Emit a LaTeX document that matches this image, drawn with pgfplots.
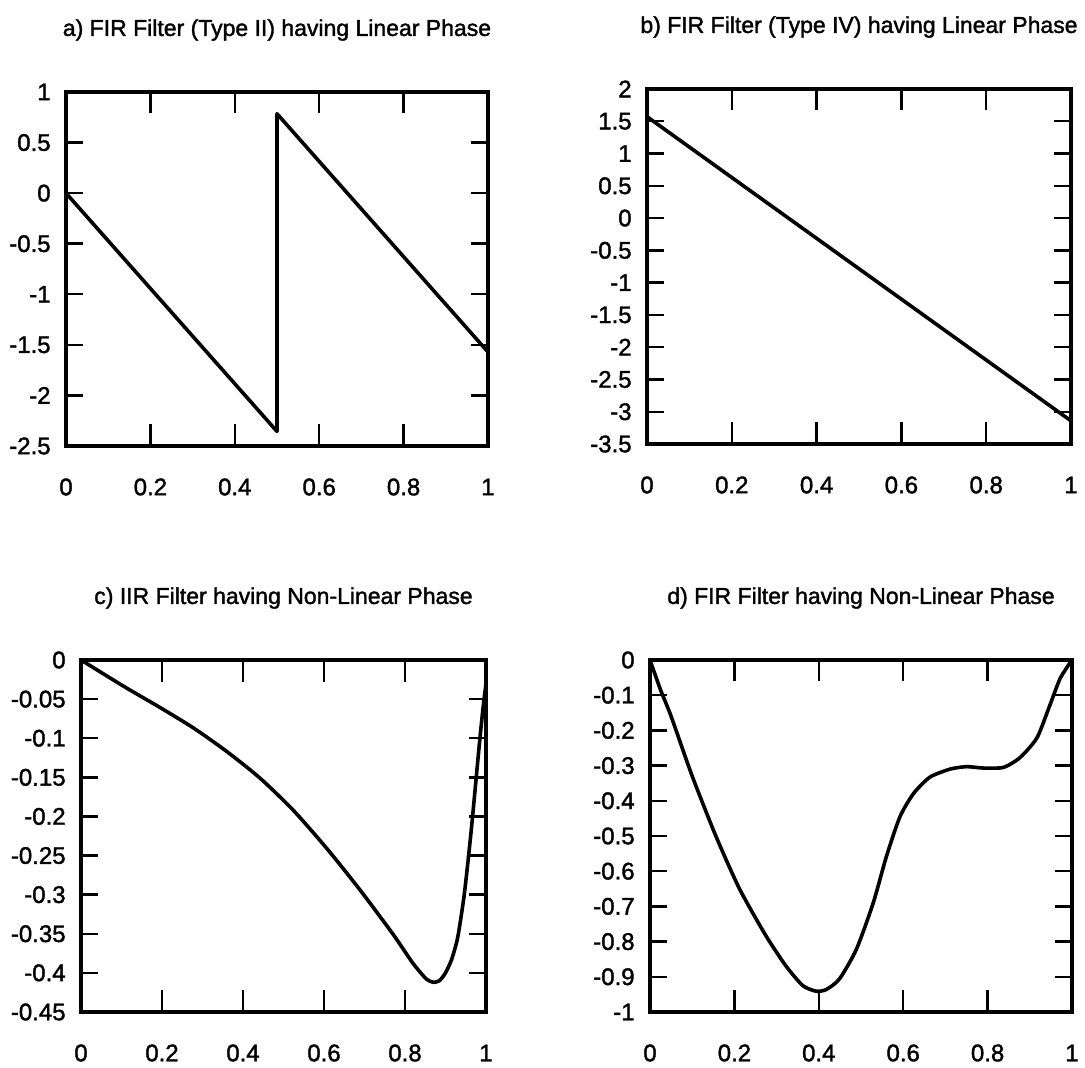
\documentclass[border=0pt]{standalone}
\usepackage{pgfplots}
\pgfplotsset{compat=1.18}
\usepackage{fontspec}
\setmainfont{Liberation Sans}[FakeBold=1.6]

\pgfplotsset{
  phaseplot/.style={
    scale only axis,
    anchor=south west,
    xmin=0, xmax=1,
    xtick={0,0.2,0.4,0.6,0.8,1},
    xticklabels={0,0.2,0.4,0.6,0.8,1},
    axis line style={line width=2pt},
    tick style={line width=1.2pt, black},
    xtick style={/pgfplots/major tick length=10.75pt},
    ytick style={/pgfplots/major tick length=8.5pt},
    tick align=inside,
    xticklabel style={font=\fontsize{12}{14}\selectfont, anchor=center, inner sep=0pt, yshift=-20.5pt},
    yticklabel style={font=\fontsize{12}{14}\selectfont, anchor=east, inner sep=0pt, xshift=-7.5pt},
    title style={font=\fontsize{11.5}{13}\selectfont, at={(0.5,1)}, anchor=center, yshift=25pt},
    clip=false,
  },
  phaseline/.style={black, no markers, line width=1.8pt, line join=round, line cap=round},
}

\begin{document}
\begin{tikzpicture}
\useasboundingbox (0,0) rectangle (542.5pt,534pt);

% a) Type II linear-phase FIR: phase wraps at half band
\begin{axis}[phaseplot, at={(33pt,311pt)}, width=211pt, height=177pt,
  ymin=-2.5, ymax=1,
  ytick={-2.5,-2,-1.5,-1,-0.5,0,0.5,1},
  yticklabels={-2.5,-2,-1.5,-1,-0.5,0,0.5,1},
  title={a) FIR Filter (Type II) having Linear Phase}]
\addplot[phaseline] coordinates {(0,0) (0.5,-2.356) (0.5,0.785) (1,-1.571)};
\end{axis}

% b) Type IV linear-phase FIR
\begin{axis}[phaseplot, at={(323.5pt,312pt)}, width=212pt, height=177.5pt,
  ymin=-3.5, ymax=2,
  ytick={-3.5,-3,-2.5,-2,-1.5,-1,-0.5,0,0.5,1,1.5,2},
  yticklabels={-3.5,-3,-2.5,-2,-1.5,-1,-0.5,0,0.5,1,1.5,2},
  title={b) FIR Filter (Type IV) having Linear Phase}]
\addplot[phaseline] coordinates {(0,1.571) (1,-3.142)};
\end{axis}

% c) IIR filter phase
\begin{axis}[phaseplot, at={(40.5pt,28pt)}, width=202.5pt, height=176pt,
  ymin=-0.45, ymax=0,
  ytick={-0.45,-0.4,-0.35,-0.3,-0.25,-0.2,-0.15,-0.1,-0.05,0},
  yticklabels={-0.45,-0.4,-0.35,-0.3,-0.25,-0.2,-0.15,-0.1,-0.05,0},
  title={c) IIR Filter having Non-Linear Phase}]
\addplot[phaseline, smooth, tension=0.4] coordinates {
  (0,0) (0.05,-0.016) (0.113,-0.036) (0.196,-0.061) (0.278,-0.087)
  (0.36,-0.117) (0.442,-0.151) (0.524,-0.192) (0.607,-0.241)
  (0.689,-0.294) (0.771,-0.351) (0.82,-0.388) (0.853,-0.408)
  (0.87,-0.412) (0.885,-0.410) (0.9,-0.400) (0.915,-0.383)
  (0.93,-0.355) (0.945,-0.305) (0.955,-0.26) (0.965,-0.21)
  (0.975,-0.155) (0.985,-0.10) (0.993,-0.06) (1,-0.03)};
\end{axis}

% d) FIR filter with non-linear phase
\begin{axis}[phaseplot, at={(325pt,28pt)}, width=211pt, height=176pt,
  ymin=-1, ymax=0,
  ytick={-1,-0.9,-0.8,-0.7,-0.6,-0.5,-0.4,-0.3,-0.2,-0.1,0},
  yticklabels={-1,-0.9,-0.8,-0.7,-0.6,-0.5,-0.4,-0.3,-0.2,-0.1,0},
  title={d) FIR Filter having Non-Linear Phase}]
\addplot[phaseline, smooth, tension=0.4] coordinates {
  (0,0) (0.025,-0.085) (0.05,-0.16) (0.1,-0.33) (0.156,-0.50)
  (0.212,-0.65) (0.275,-0.784) (0.322,-0.869) (0.362,-0.925)
  (0.394,-0.941) (0.418,-0.936) (0.449,-0.906) (0.489,-0.822)
  (0.529,-0.69) (0.56,-0.559) (0.592,-0.446) (0.624,-0.38)
  (0.663,-0.333) (0.711,-0.31) (0.75,-0.303) (0.79,-0.307)
  (0.838,-0.305) (0.877,-0.277) (0.917,-0.221) (0.948,-0.127)
  (0.972,-0.052) (1,0)};
\end{axis}
\end{tikzpicture}
\end{document}
